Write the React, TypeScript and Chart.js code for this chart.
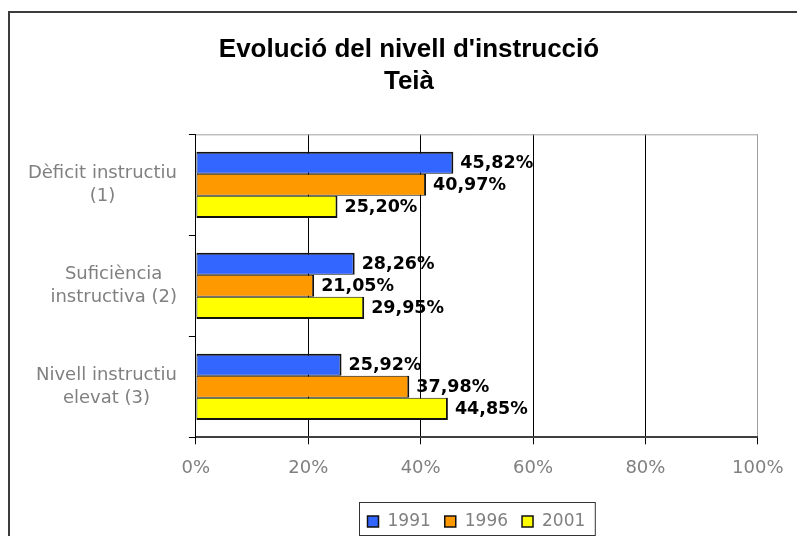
import { useEffect, useRef } from 'react';
import { Chart, registerables } from 'chart.js';

Chart.register(...registerables);

const titleLines = ["Evolució del nivell d'instrucció", "Teià"];
const categories = [
  ["Dèficit instructiu", "(1)"],
  ["Suficiència", "instructiva (2)"],
  ["Nivell instructiu", "elevat (3)"],
];
const seriesLabels = ["1991", "1996", "2001"];
const values1991 = [45.82, 28.26, 25.92];
const values1996 = [40.97, 21.05, 37.98];
const values2001 = [25.2, 29.95, 44.85];
const xTicks = [0, 20, 40, 60, 80, 100];
const seriesColors = ['#3366ff', '#ff9900', '#ffff00'];

const GRAY_TEXT = '#808080';
const FONT = '"DejaVu Sans", Verdana, sans-serif';

const fmt = (v: number) => v.toFixed(2).replace('.', ',') + '%';

const categoryLabelPlugin = {
  id: 'categoryLabels',
  afterDraw(chart: any) {
    const ctx = chart.ctx;
    const ys = chart.scales.y;
    ctx.save();
    ctx.font = `18px ${FONT}`;
    ctx.fillStyle = GRAY_TEXT;
    ctx.textBaseline = 'middle';
    ctx.textAlign = 'center';
    const right = chart.chartArea.left - 19;
    categories.forEach((lines, i) => {
      const cy = ys.getPixelForValue(i);
      const maxW = Math.max(...lines.map((l) => ctx.measureText(l).width));
      const cx = right - maxW / 2;
      lines.forEach((l, j) => {
        ctx.fillText(l, cx, cy + (j - (lines.length - 1) / 2) * 23.5);
      });
    });
    ctx.restore();
  },
};

const valueLabelPlugin = {
  id: 'valueLabels',
  afterDatasetsDraw(chart: any) {
    const ctx = chart.ctx;
    ctx.save();
    ctx.font = `bold 17.5px ${FONT}`;
    ctx.fillStyle = '#000';
    ctx.textBaseline = 'middle';
    ctx.textAlign = 'left';
    chart.data.datasets.forEach((ds: any, di: number) => {
      const meta = chart.getDatasetMeta(di);
      meta.data.forEach((el: any, i: number) => {
        ctx.fillText(fmt(ds.data[i]), el.x + 7, el.y + 0.5);
      });
    });
    ctx.restore();
  },
};

const frameExtrasPlugin = {
  id: 'frameExtras',
  afterDraw(chart: any) {
    const ctx = chart.ctx;
    const a = chart.chartArea;
    ctx.save();
    // top plot border
    ctx.strokeStyle = '#a0a0a0';
    ctx.lineWidth = 1;
    ctx.beginPath();
    ctx.moveTo(a.left, a.top + 0.5);
    ctx.lineTo(a.right, a.top + 0.5);
    ctx.stroke();

    // legend
    ctx.font = `17px ${FONT}`;
    ctx.textBaseline = 'middle';
    ctx.textAlign = 'left';
    const padL = 8, padR = 10, sw = 11, swGap = 9, itemGap = 14;
    const widths = seriesLabels.map((l) => ctx.measureText(l).width);
    const total = padL + padR + seriesLabels.length * (sw + swGap) + widths.reduce((s, w) => s + w, 0) + itemGap * (seriesLabels.length - 1);
    const cx = (a.left + a.right) / 2;
    const left = Math.round(cx - total / 2) + 0.5;
    const top = Math.round(a.bottom + 65) + 0.5;
    const h = 33;
    ctx.strokeStyle = '#333';
    ctx.lineWidth = 1;
    ctx.strokeRect(left, top, total, h);
    let x = left + padL;
    const my = top + 19;
    seriesLabels.forEach((l, i) => {
      ctx.fillStyle = seriesColors[i];
      ctx.fillRect(x, my - 5.5, sw, sw);
      ctx.strokeStyle = '#111';
      ctx.lineWidth = 1.5;
      ctx.strokeRect(x, my - 5.5, sw, sw);
      ctx.fillStyle = GRAY_TEXT;
      ctx.fillText(l, x + sw + swGap, my);
      x += sw + swGap + widths[i] + itemGap;
    });
    ctx.restore();
  },
};

export default function App() {
  const ref = useRef<HTMLCanvasElement | null>(null);

  useEffect(() => {
    if (!ref.current) return;
    const series = [values1991, values1996, values2001];
    const chart = new Chart(ref.current, {
      type: 'bar',
      data: {
        labels: categories.map((c) => c.join(' ')),
        datasets: series.map((data, i) => ({
          label: seriesLabels[i],
          data,
          backgroundColor: seriesColors[i],
          borderColor: '#111',
          borderSkipped: false,
          borderWidth: {
            top: i === 0 ? 2 : 1,
            bottom: i === series.length - 1 ? 2 : 1,
            left: 1,
            right: 2,
          },
          categoryPercentage: 0.656,
          barPercentage: 1,
        })),
      },
      options: {
        indexAxis: 'y',
        animation: false,
        responsive: false,
        devicePixelRatio: 1,
        layout: {
          autoPadding: false,
          padding: { left: 50, right: 39, top: 0, bottom: 43.1 },
        },
        plugins: {
          legend: { display: false },
          tooltip: { enabled: false },
          title: {
            display: true,
            text: titleLines,
            color: '#000',
            font: { family: '"Liberation Sans", Arial, sans-serif', size: 26, weight: 'bold', lineHeight: 1.258 },
            padding: { top: 20, bottom: 35.9 },
          },
        },
        scales: {
          x: {
            type: 'linear',
            min: xTicks[0],
            max: xTicks[xTicks.length - 1],
            afterBuildTicks: (s: any) => {
              s.ticks = xTicks.map((v) => ({ value: v }));
            },
            ticks: {
              callback: (v: any) => v + '%',
              color: GRAY_TEXT,
              font: { family: FONT, size: 18 },
              padding: 13.5,
              maxRotation: 0,
            },
            grid: {
              color: (c: any) => (c.tick && c.tick.value === 100 ? '#a0a0a0' : '#000'),
              lineWidth: 1,
              tickLength: 7,
              tickColor: '#000',
            },
            border: { display: true, color: '#404040', width: 2 },
          },
          y: {
            type: 'category',
            offset: true,
            afterFit: (s: any) => {
              s.width = 135.9;
            },
            ticks: { display: false },
            grid: {
              offset: true,
              drawOnChartArea: false,
              drawTicks: true,
              tickLength: 7,
              tickColor: '#000',
              color: '#000',
            },
            border: { display: true, color: '#000', width: 1 },
          },
        },
      },
      plugins: [categoryLabelPlugin, valueLabelPlugin, frameExtrasPlugin],
    } as any);
    return () => chart.destroy();
  }, []);

  return (
    <div
      style={{
        position: 'absolute',
        left: 8,
        top: 11,
        width: 789,
        height: 525,
        boxSizing: 'border-box',
        borderTop: '2px solid #3c3c3c',
        borderLeft: '2px solid #3c3c3c',
        background: '#fff',
        overflow: 'hidden',
      }}
    >
      <canvas ref={ref} width={787} height={523} style={{ display: 'block' }} />
    </div>
  );
}
